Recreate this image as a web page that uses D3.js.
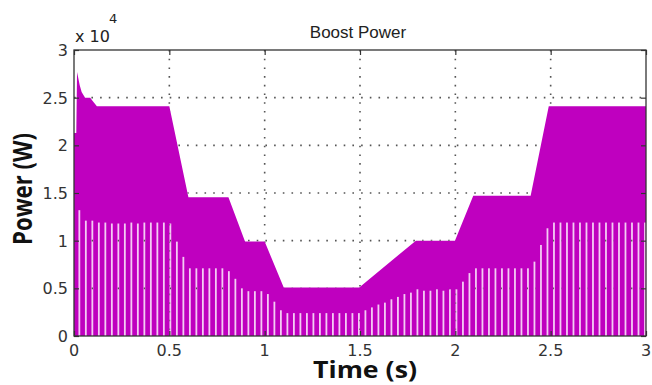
<!DOCTYPE html>
<html>
<head>
<meta charset="utf-8">
<script src="https://cdn.jsdelivr.net/npm/d3@7"></script>
<style>
  html, body { margin: 0; padding: 0; background: #fff; }
  svg { display: block; }
</style>
</head>
<body>
<div id="chart"></div>
<script>
// data (values in units of 1e4 W)
const xTicks = [0, 0.5, 1, 1.5, 2, 2.5, 3];
const yTicks = [0, 0.5, 1, 1.5, 2, 2.5, 3];
const xTickLabels = ['0', '0.5', '1', '1.5', '2', '2.5', '3'];
const yTickLabels = ['0', '0.5', '1', '1.5', '2', '2.5', '3'];

// upper envelope of the power ripple: [time, power]
const upperTime = [0, 0.012, 0.016, 0.03, 0.04, 0.058, 0.085, 0.1, 0.12, 0.5,
  0.6, 0.81, 0.897, 1.0, 1.1, 1.496, 1.793, 1.998, 2.094, 2.395, 2.49, 3];
const upperPower = [2.13, 2.13, 2.77, 2.63, 2.56, 2.5, 2.5, 2.46, 2.41, 2.41,
  1.455, 1.455, 0.99, 0.99, 0.51, 0.51, 1.0, 1.0, 1.47, 1.47, 2.41, 2.41];

// lower level of each switching period (light gaps down to zero)
const stripeStart = 0.028;
const stripePeriod = 0.0341;
const stripePower = [
  1.32, 1.21, 1.21, 1.19, 1.19, 1.18, 1.18, 1.18, 1.19, 1.18,
  1.19, 1.19, 1.19, 1.19, 1.18, 0.99, 0.83, 0.71, 0.71, 0.71,
  0.71, 0.71, 0.71, 0.68, 0.60, 0.50, 0.47, 0.47, 0.47, 0.44,
  0.36, 0.27, 0.24, 0.24, 0.24, 0.24, 0.24, 0.24, 0.24, 0.24,
  0.24, 0.24, 0.24, 0.24, 0.27, 0.30, 0.33, 0.35, 0.385, 0.41,
  0.44, 0.455, 0.49, 0.475, 0.475, 0.49, 0.475, 0.49, 0.49, 0.57,
  0.66, 0.71, 0.71, 0.71, 0.71, 0.71, 0.71, 0.71, 0.71, 0.71,
  0.78, 0.955, 1.13, 1.19, 1.19, 1.19, 1.19, 1.19, 1.19, 1.19,
  1.19, 1.19, 1.19, 1.19, 1.19, 1.19, 1.19, 1.19
];

const width = 652;
const height = 385;
const plot = {left: 74, right: 646, top: 50, bottom: 336};
const magenta = '#bf00bf';
const axisColor = '#333';

const upper = upperTime.map((t, i) => [t, upperPower[i]]);
const stripes = stripePower.map((p, i) => [stripeStart + i * stripePeriod, p]);

const svg = d3.select('#chart')
    .append('svg')
    .attr('width', width)
    .attr('height', height);

const x = d3.scaleLinear().domain([0, 3]).range([plot.left, plot.right]);
const y = d3.scaleLinear().domain([0, 3]).range([plot.bottom, plot.top]);

// clip so the dotted grid only shows through the white parts
const clip = svg.append('defs').append('clipPath').attr('id', 'gridClip');
clip.append('path')
    .attr('d', d3.area()
        .x((d) => x(d[0]))
        .y0(y(3))
        .y1((d) => y(d[1]))(upper));
clip.selectAll('rect')
    .data(stripes)
    .join('rect')
    .attr('x', (d) => x(d[0]) - 0.9)
    .attr('y', (d) => y(d[1]))
    .attr('width', 1.8)
    .attr('height', (d) => y(0) - y(d[1]));

// filled ripple
svg.append('path')
    .datum(upper)
    .attr('fill', magenta)
    .attr('d', d3.area()
        .x((d) => x(d[0]))
        .y0(y(0))
        .y1((d) => y(d[1])));

svg.append('g')
    .selectAll('rect')
    .data(stripes)
    .join('rect')
    .attr('x', (d) => x(d[0]) - 0.9)
    .attr('y', (d) => y(d[1]))
    .attr('width', 1.8)
    .attr('height', (d) => y(0) - y(d[1]))
    .attr('fill', '#f4cbf4');

// dotted grid
const grid = svg.append('g')
    .attr('clip-path', 'url(#gridClip)')
    .attr('stroke', '#555')
    .attr('stroke-width', 1.6)
    .attr('stroke-dasharray', '1.6,7.1');
grid.selectAll('.gx')
    .data(xTicks.slice(1, -1))
    .join('line')
    .attr('x1', (d) => x(d)).attr('x2', (d) => x(d))
    .attr('y1', plot.top).attr('y2', plot.bottom);
grid.selectAll('.gy')
    .data(yTicks.slice(1, -1))
    .join('line')
    .attr('class', 'gy')
    .attr('y1', (d) => y(d)).attr('y2', (d) => y(d))
    .attr('x1', plot.left).attr('x2', plot.right);

// axes, ticks inside like matlab
svg.append('g')
    .attr('transform', 'translate(0,' + plot.bottom + ')')
    .call(d3.axisBottom(x).tickValues(xTicks).tickSize(-5).tickFormat(''))
    .call((g) => g.select('.domain').remove());
svg.append('g')
    .attr('transform', 'translate(0,' + plot.top + ')')
    .call(d3.axisTop(x).tickValues(xTicks).tickSize(-5).tickFormat(''))
    .call((g) => g.select('.domain').remove());
svg.append('g')
    .attr('transform', 'translate(' + plot.left + ',0)')
    .call(d3.axisLeft(y).tickValues(yTicks).tickSize(-5).tickFormat(''))
    .call((g) => g.select('.domain').remove());
svg.append('g')
    .attr('transform', 'translate(' + plot.right + ',0)')
    .call(d3.axisRight(y).tickValues(yTicks).tickSize(-5).tickFormat(''))
    .call((g) => g.select('.domain').remove());
svg.selectAll('.tick line')
    .attr('stroke', axisColor)
    .attr('stroke-width', 1.2);

svg.append('rect')
    .attr('x', plot.left)
    .attr('y', plot.top)
    .attr('width', plot.right - plot.left)
    .attr('height', plot.bottom - plot.top)
    .attr('fill', 'none')
    .attr('stroke', axisColor)
    .attr('stroke-width', 1.3);

// tick labels
svg.append('g')
    .selectAll('text')
    .data(xTicks)
    .join('text')
    .attr('x', (d) => x(d))
    .attr('y', 356)
    .attr('text-anchor', 'middle')
    .attr('font-family', 'DejaVu Sans')
    .attr('font-size', 16)
    .attr('fill', '#333')
    .text((d, i) => xTickLabels[i]);
svg.append('g')
    .selectAll('text')
    .data(yTicks)
    .join('text')
    .attr('x', 68)
    .attr('y', (d) => y(d) + 6)
    .attr('text-anchor', 'end')
    .attr('font-family', 'DejaVu Sans')
    .attr('font-size', 16)
    .attr('fill', '#333')
    .text((d, i) => yTickLabels[i]);

// exponent
svg.append('text')
    .attr('x', 75)
    .attr('y', 42)
    .attr('font-family', 'DejaVu Sans')
    .attr('font-size', 16)
    .attr('fill', '#222')
    .text('x 10');
svg.append('text')
    .attr('x', 109)
    .attr('y', 23)
    .attr('font-family', 'DejaVu Sans')
    .attr('font-size', 13)
    .attr('fill', '#222')
    .text('4');

// title and labels
svg.append('text')
    .attr('x', 358)
    .attr('y', 38)
    .attr('text-anchor', 'middle')
    .attr('font-family', 'Liberation Sans, Arial, sans-serif')
    .attr('font-size', 17)
    .attr('fill', '#222')
    .text('Boost Power');

svg.append('text')
    .attr('x', 365)
    .attr('y', 378)
    .attr('text-anchor', 'middle')
    .attr('font-family', 'Open Sans')
    .attr('font-weight', 'bold')
    .attr('font-size', 23)
    .attr('textLength', 104)
    .attr('lengthAdjust', 'spacingAndGlyphs')
    .attr('fill', '#111')
    .text('Time (s)');

svg.append('text')
    .attr('transform', 'translate(32,189) rotate(-90)')
    .attr('text-anchor', 'middle')
    .attr('font-family', 'Open Sans')
    .attr('font-weight', 'bold')
    .attr('font-size', 26)
    .attr('textLength', 112)
    .attr('lengthAdjust', 'spacingAndGlyphs')
    .attr('fill', '#111')
    .text('Power (W)');
</script>
</body>
</html>
